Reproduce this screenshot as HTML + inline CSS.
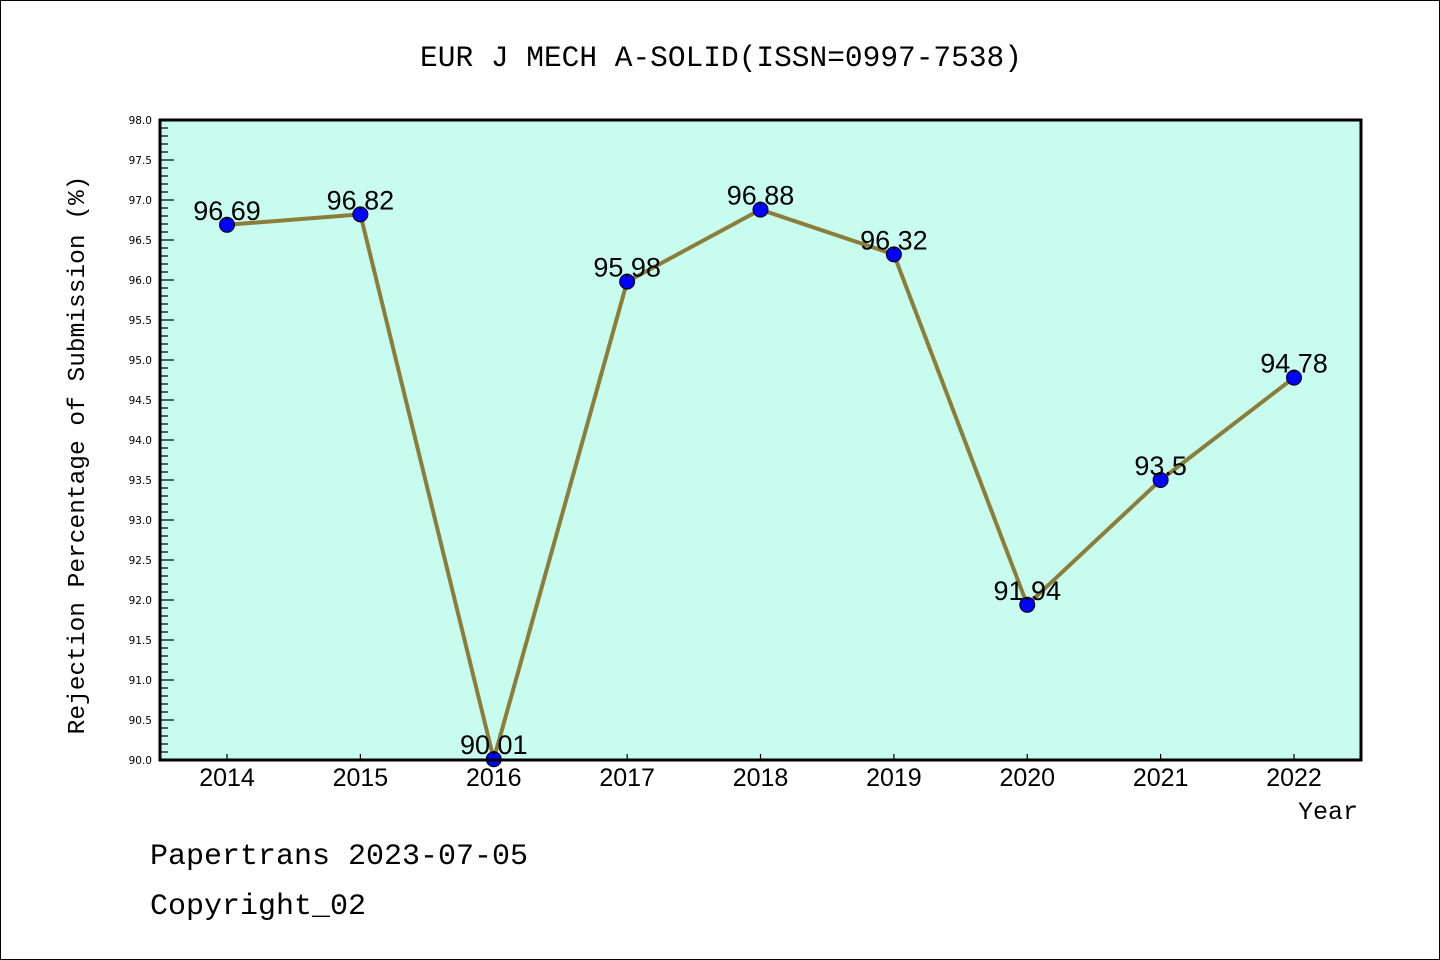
<!DOCTYPE html>
<html><head><meta charset="utf-8"><style>
html,body{margin:0;padding:0;background:#fff}
svg{display:block}
</style></head><body>
<svg id="c" width="1440" height="960" xmlns="http://www.w3.org/2000/svg">
<rect x="0.5" y="0.5" width="1439" height="959" fill="#fff" stroke="#000"/>
<text x="721" y="66" text-anchor="middle" font-family="Liberation Mono, monospace" font-size="29.5">EUR J MECH A-SOLID(ISSN=0997-7538)</text>
<rect x="160" y="120" width="1201" height="640" fill="#c8fcee"/>
<g id="yt"></g>
<g id="xt"></g>
<g id="series"></g>
<rect x="160" y="120" width="1201" height="640" fill="none" stroke="#000" stroke-width="3"/>
<text transform="translate(84,455) rotate(-90)" text-anchor="middle" font-family="Liberation Mono, monospace" font-size="24.5">Rejection Percentage of Submission (%)</text>
<text x="1358" y="819" text-anchor="end" font-family="Liberation Mono, monospace" font-size="25">Year</text>
<text x="150" y="864" font-family="Liberation Mono, monospace" font-size="30">Papertrans 2023-07-05</text>
<text x="150" y="914" font-family="Liberation Mono, monospace" font-size="30">Copyright_02</text>
</svg>
<script>
const years = ["2014","2015","2016","2017","2018","2019","2020","2021","2022"];
const values = [96.69,96.82,90.01,95.98,96.88,96.32,91.94,93.5,94.78];
const labels = ["96.69","96.82","90.01","95.98","96.88","96.32","91.94","93.5","94.78"];
const yMin = 90, yMax = 98;
const NS = "http://www.w3.org/2000/svg";
const L=160,R=1361,T=120,B=760;
function yS(v){return B-(v-yMin)/(yMax-yMin)*(B-T);}
function xS(i){return 227+i*(1294-227)/(years.length-1);}
function mk(tag,attrs,parent){const e=document.createElementNS(NS,tag);for(const k in attrs)e.setAttribute(k,attrs[k]);parent.appendChild(e);return e;}
const yt=document.getElementById('yt');
for(let k=0;k<=80;k++){
  const v=yMin+k*0.1, y=yS(v), major=k%5===0;
  const t=mk('line',{x1:L,x2:L+(major?14:8),y1:y,y2:y,stroke:'#000','stroke-width':1.2},yt);
  
  
  if(major){
    const tx=mk('text',{x:152,y:y+4,'text-anchor':'end','font-family':'DejaVu Sans, sans-serif','font-size':10.5},yt);
    tx.textContent=v.toFixed(1);
    
    
  }
}
const xt=document.getElementById('xt');
years.forEach((yr,i)=>{
  const x=xS(i);
  const t=mk('line',{x1:x,x2:x,y1:B,y2:B-6,stroke:'#000','stroke-width':1.2},xt);
  
  
  const tx=mk('text',{x:x,y:786,'text-anchor':'middle','font-family':'Liberation Sans, sans-serif','font-size':25},xt);
  tx.textContent=yr;
  
  
});
const s=document.getElementById('series');
const pts=values.map((v,i)=>xS(i)+','+yS(v)).join(' ');
const pl=mk('polyline',{points:pts,fill:'none',stroke:'#8b7d3a','stroke-width':4,'stroke-linejoin':'round'},s);


values.forEach((v,i)=>{
  const c=mk('circle',{cx:xS(i),cy:yS(v),r:7.5,fill:'#0000ff',stroke:'#000','stroke-width':1},s);
  
  
});
values.forEach((v,i)=>{
  const tx=mk('text',{x:xS(i),y:yS(v)-5,'text-anchor':'middle','font-family':'Liberation Sans, sans-serif','font-size':27},s);
  tx.textContent=labels[i];
  
  
});
</script>
</body></html>
